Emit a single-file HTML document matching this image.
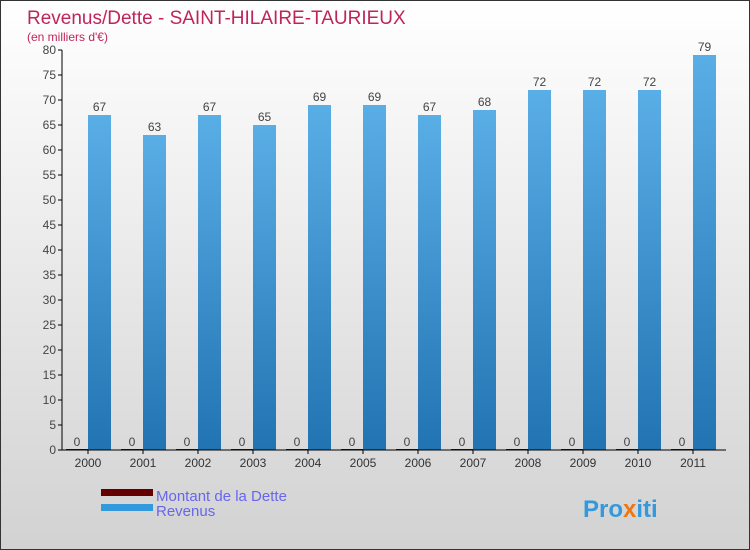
<!DOCTYPE html>
<html><head><meta charset="utf-8"><style>
body{margin:0}
#c{width:748px;height:548px;border:1px solid #333;background:linear-gradient(#ffffff,#d2d2d2);position:relative;font-family:"Liberation Sans",sans-serif;overflow:hidden}
</style></head><body>
<div id="c">
<svg id="s" width="748" height="548">
<text x="26" y="23" font-size="19" fill="#c0245c">Revenus/Dette - SAINT-HILAIRE-TAURIEUX</text>
<text x="26" y="40" font-size="12" fill="#c0245c">(en milliers d'€)</text>
<g id="g"></g>
<rect x="100" y="488" width="52" height="7" fill="#660000"/>
<text x="155" y="500" font-size="15" fill="#6666ee">Montant de la Dette</text>
<rect x="100" y="503" width="52" height="7" fill="#3399dd"/>
<text x="155" y="515" font-size="15" fill="#6666ee">Revenus</text>
<text x="582" y="516" font-size="24" font-weight="bold" fill="#3399dd">Pro<tspan fill="#ee7711">x</tspan>iti</text>
</svg></div>
<script>
const categories=["2000","2001","2002","2003","2004","2005","2006","2007","2008","2009","2010","2011"];
const revenus=[67,63,67,65,69,69,67,68,72,72,72,79];
const dette=[0,0,0,0,0,0,0,0,0,0,0,0];
const yTicks=[0,5,10,15,20,25,30,35,40,45,50,55,60,65,70,75,80];
const NS="http://www.w3.org/2000/svg",g=document.getElementById('g');
const y=v=>449-v*5, x=i=>87+55*i;
function mk(t,a){const e=document.createElementNS(NS,t);for(const k in a)e.setAttribute(k,a[k]);g.appendChild(e);return e;}
let e=mk('defs',{});e.innerHTML='<linearGradient id="bg" x1="0" y1="0" x2="0" y2="1"><stop offset="0" stop-color="#5aaee6"/><stop offset="1" stop-color="#2273b2"/></linearGradient>';
categories.forEach((c,i)=>{
 let r=mk('rect',{x:x(i)-22,y:y(dette[i])-1,width:22,height:dette[i]*5+1,fill:'#660000'});
 
 
 let t=mk('text',{x:x(i)-11,y:y(dette[i])-4,'font-size':12,fill:'#444','text-anchor':'middle'});t.textContent=dette[i];
 
 
 r=mk('rect',{x:x(i),y:y(revenus[i]),width:23,height:revenus[i]*5,fill:'url(#bg)'});
 
 
 t=mk('text',{x:x(i)+11.5,y:y(revenus[i])-4,'font-size':12,fill:'#444','text-anchor':'middle'});t.textContent=revenus[i];
 
 
 t=mk('text',{x:x(i),y:466,'font-size':12,fill:'#333','text-anchor':'middle'});t.textContent=c;
 
 
 mk('line',{x1:x(i),x2:x(i),y1:449,y2:453,stroke:'#000'});
});
yTicks.forEach(v=>{
 mk('line',{x1:57,x2:61,y1:y(v),y2:y(v),stroke:'#000'});
 let t=mk('text',{x:55,y:y(v)+4,'font-size':12,fill:'#444','text-anchor':'end'});t.textContent=v;
 
 
});
let a=mk('line',{x1:61,x2:61,y1:49,y2:449,stroke:'#000'});


a=mk('line',{x1:61,x2:725,y1:449,y2:449,stroke:'#000'});


</script>
</body></html>
